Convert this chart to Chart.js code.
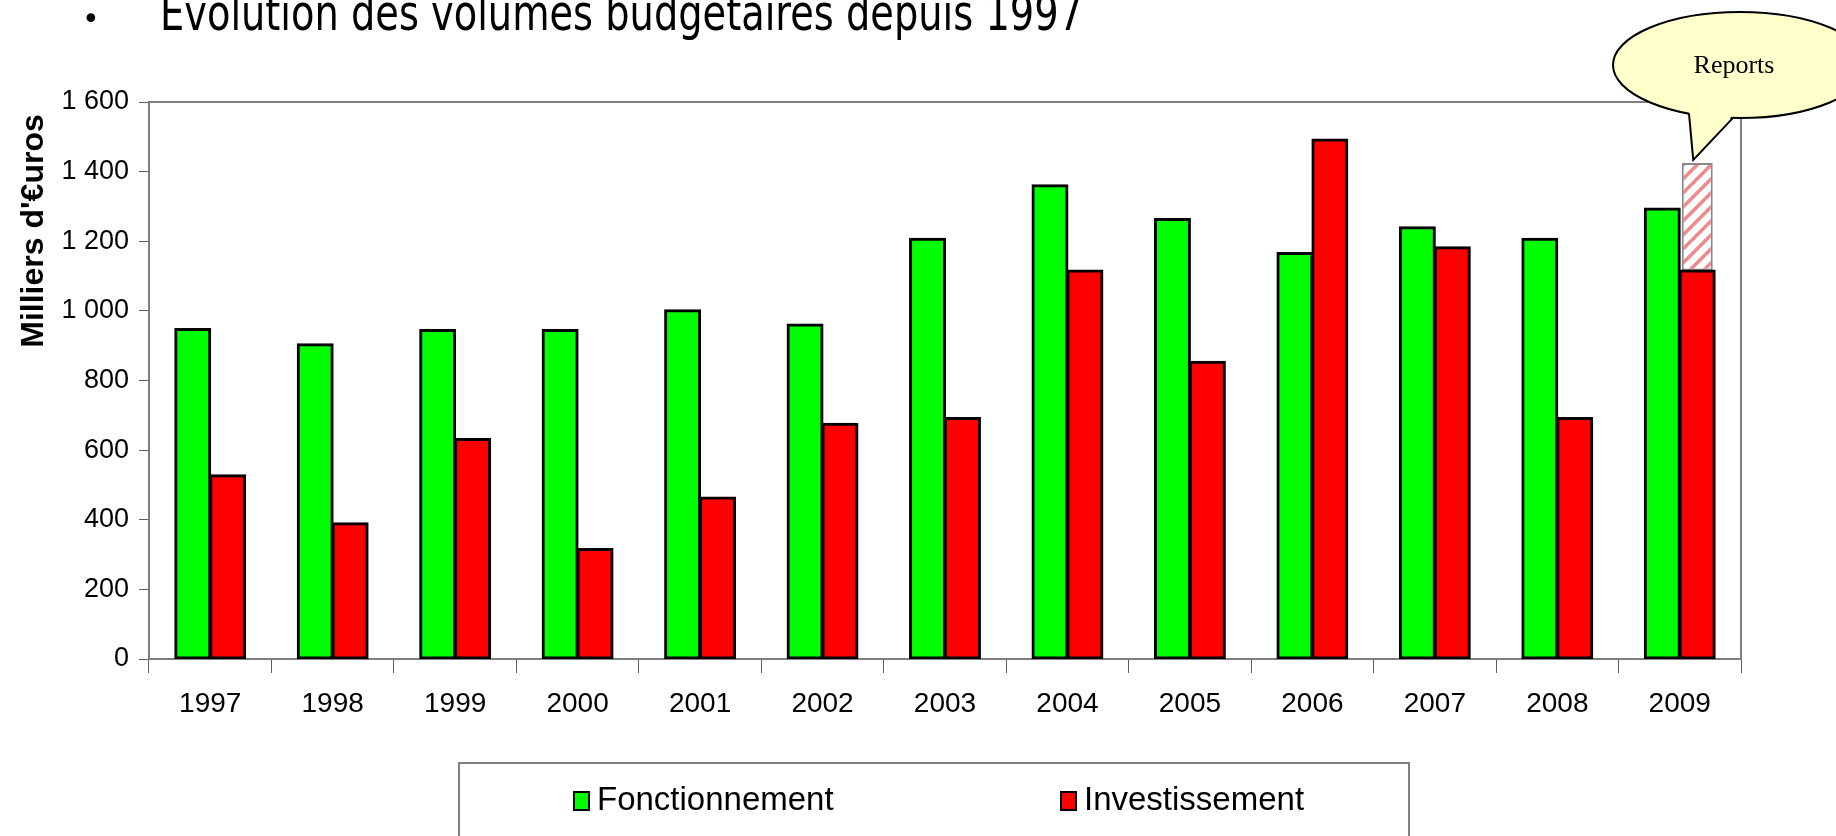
<!DOCTYPE html>
<html>
<head>
<meta charset="utf-8">
<script src="https://cdn.jsdelivr.net/npm/chart.js@4"></script>
<style>
body{margin:0;background:#fff}
#wrap{width:1836px;height:836px;position:relative}
</style>
</head>
<body>
<div id="wrap"><canvas id="budget"></canvas></div>
<script>
const years = ['1997','1998','1999','2000','2001','2002','2003','2004','2005','2006','2007','2008','2009'];
const fonctionnement = [948, 904, 945, 945, 1002, 961, 1207, 1361, 1264, 1166, 1240, 1207, 1294];
const investissement = [528, 390, 632, 316, 464, 676, 692, 1116, 854, 1492, 1183, 692, 1116];
const reports = [null, null, null, null, null, null, null, null, null, null, null, null, 309];
const yMin = 0, yMax = 1600, yStep = 200;

const titleText = 'Evolution des volumes budgetaires depuis 1997';
const yTitle = "Milliers d'\u20acuros";
const bubbleText = 'Reports';

function fmt(v){
  return String(v).replace(/\B(?=(\d{3})+(?!\d))/g, ' ');
}

// hatched fill for the "Reports" part
function hatch(){
  const c = document.createElement('canvas');
  c.width = 14; c.height = 14;
  const g = c.getContext('2d');
  g.fillStyle = '#fff';
  g.fillRect(0, 0, 14, 14);
  g.strokeStyle = '#f08a8a';
  g.lineWidth = 3.5;
  g.beginPath();
  g.moveTo(-2, 16); g.lineTo(16, -2);
  g.moveTo(-9, 9); g.lineTo(9, -9);
  g.moveTo(5, 23); g.lineTo(23, 5);
  g.stroke();
  return g.createPattern(c, 'repeat');
}

const decor = {
  id: 'decor',
  beforeDatasetsDraw(chart){
    const {ctx, chartArea: a} = chart;
    ctx.save();
    ctx.strokeStyle = '#808080';
    ctx.lineWidth = 2;
    ctx.strokeRect(a.left, a.top, a.right - a.left, a.bottom - a.top);
    ctx.restore();
  },
  afterDraw(chart){
    const ctx = chart.ctx;
    ctx.save();

    // title
    ctx.fillStyle = '#000';
    ctx.textBaseline = 'alphabetic';
    ctx.font = '30px "DejaVu Sans"';
    ctx.fillText('\u2022', 82, 29);
    ctx.font = '50px "DejaVu Sans"';
    const w = ctx.measureText(titleText).width;
    ctx.save();
    ctx.translate(160, 30);
    ctx.scale(923 / w, 1);
    ctx.fillText(titleText, 0, 0);
    ctx.restore();

    // y axis title
    ctx.save();
    ctx.translate(34, 231);
    ctx.rotate(-Math.PI / 2);
    ctx.font = 'bold 32px "Liberation Sans"';
    ctx.textAlign = 'center';
    ctx.textBaseline = 'middle';
    ctx.fillText(yTitle, 0, 0);
    ctx.restore();

    // callout
    const bar = chart.getDatasetMeta(2).data[12];
    const cx = 1740, cy = 65, rx = 127, ry = 53;
    const tip = {x: bar.x - 4, y: bar.y - 3};
    const ey = x => cy + ry * Math.sqrt(1 - Math.pow((x - cx) / rx, 2));
    const b1 = {x: 1689, y: ey(1689)}, b2 = {x: 1733, y: ey(1733)};
    ctx.fillStyle = '#ffffcc';
    ctx.strokeStyle = '#000';
    ctx.lineWidth = 2;
    ctx.beginPath();
    ctx.ellipse(cx, cy, rx, ry, 0, 0, Math.PI * 2);
    ctx.fill();
    ctx.stroke();
    ctx.beginPath();
    ctx.moveTo(b1.x, b1.y - 3);
    ctx.lineTo(tip.x, tip.y);
    ctx.lineTo(b2.x, b2.y - 3);
    ctx.closePath();
    ctx.fill();
    ctx.beginPath();
    ctx.moveTo(b1.x, b1.y);
    ctx.lineTo(tip.x, tip.y);
    ctx.lineTo(b2.x, b2.y);
    ctx.stroke();
    ctx.fillStyle = '#000';
    ctx.font = '26px "Liberation Serif"';
    ctx.textAlign = 'center';
    ctx.textBaseline = 'middle';
    ctx.fillText(bubbleText, 1734, 66);

    // legend box
    ctx.strokeStyle = '#808080';
    ctx.lineWidth = 2;
    ctx.strokeRect(459, 763, 950, 120);
    const items = [
      {ds: chart.data.datasets[0], x: 574},
      {ds: chart.data.datasets[1], x: 1061}
    ];
    ctx.font = '33px "Liberation Sans"';
    ctx.textAlign = 'left';
    items.forEach(it => {
      ctx.fillStyle = it.ds.backgroundColor;
      ctx.fillRect(it.x, 792, 15, 18);
      ctx.strokeStyle = '#000';
      ctx.strokeRect(it.x, 792, 15, 18);
      ctx.fillStyle = '#000';
      ctx.fillText(it.ds.label, it.x + 23, 801);
    });
    ctx.restore();
  }
};

new Chart(document.getElementById('budget'), {
  type: 'bar',
  data: {
    labels: years,
    datasets: [
      {label: 'Fonctionnement', data: fonctionnement, stack: 'f', inflateAmount: 1,
       backgroundColor: '#00ff00', borderColor: '#000', borderWidth: 3},
      {label: 'Investissement', data: investissement, stack: 'i', inflateAmount: 1,
       backgroundColor: '#ff0000', borderColor: '#000', borderWidth: 3},
      {label: 'Reports', data: reports, stack: 'i', barPercentage: 0.886,
       backgroundColor: hatch(), borderColor: '#888', borderWidth: 2}
    ]
  },
  options: {
    responsive: true,
    maintainAspectRatio: false,
    animation: false,
    datasets: {bar: {categoryPercentage: 0.571, barPercentage: 1, borderSkipped: false}},
    layout: {padding: {left: 0, top: 102, right: 95, bottom: 0}},
    plugins: {legend: {display: false}, tooltip: {enabled: false}},
    scales: {
      x: {
        stacked: true,
        afterFit: s => { s.height = 177; },
        grid: {offset: true, drawOnChartArea: false, tickLength: 14, color: '#606060'},
        border: {color: '#808080', width: 2},
        ticks: {color: '#000', padding: 14, font: {family: 'Liberation Sans', size: 28}}
      },
      y: {
        stacked: true,
        min: yMin, max: yMax,
        afterFit: s => { s.width = 149; },
        grid: {drawOnChartArea: false, tickLength: 10, color: '#606060'},
        border: {color: '#808080', width: 2},
        ticks: {stepSize: yStep, color: '#000', padding: 10,
                font: {family: 'Liberation Sans', size: 27},
                callback: v => fmt(v)}
      }
    }
  },
  plugins: [decor]
});
</script>
</body>
</html>
